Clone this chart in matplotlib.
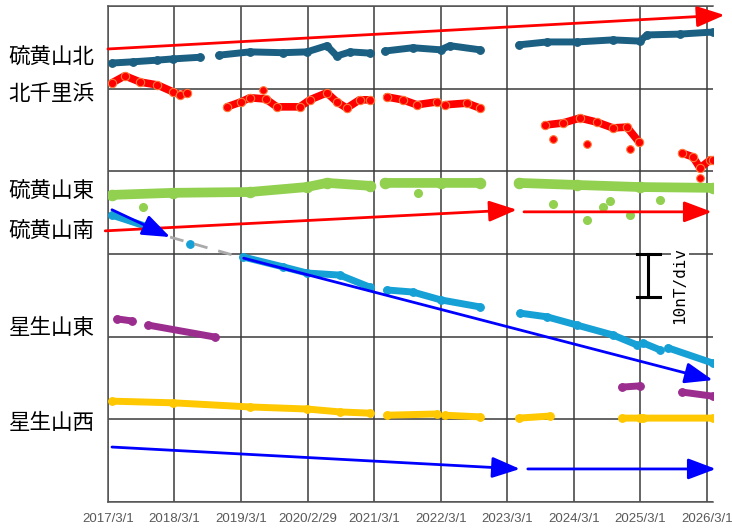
import numpy as np
import pandas as pd
import matplotlib
matplotlib.use('Agg')
import matplotlib.pyplot as plt

plt.rcParams['font.family'] = ['Noto Sans CJK JP', 'DejaVu Sans']

# x軸の目盛り
tick_dates = ['2017-03-01', '2018-03-01', '2019-03-01', '2020-02-29', '2021-03-01',
              '2022-03-01', '2023-03-01', '2024-03-01', '2025-03-01', '2026-03-01']
tick_labels = ['2017/3/1', '2018/3/1', '2019/3/1', '2020/2/29', '2021/3/1',
               '2022/3/1', '2023/3/1', '2024/3/1', '2025/3/1', '2026/3/1']

# 観測点ラベル (表示位置の値)
stations = ['硫黄山北', '北千里浜', '硫黄山東', '硫黄山南', '星生山東', '星生山西']
station_y = [107.6, 98.6, 75.0, 65.6, 42.0, 19.0]

# 各観測点の値 (None は欠測)
n1_dates = ['2017-03-23', '2017-07-17', '2017-11-27', '2018-02-22', '2018-07-19', None,
            '2018-10-31', '2019-04-19', '2019-10-17', '2020-02-26', '2020-06-14', '2020-08-08',
            '2020-10-20', '2021-02-04', None,
            '2021-04-28', '2021-09-29', '2022-03-01', '2022-04-20', '2022-10-02', None,
            '2023-05-04', '2023-10-05', '2024-03-18', '2024-10-01', '2025-02-26',
            '2025-04-06', '2025-10-04', '2026-04-02']
n1_vals = [106.2, 106.5, 106.9, 107.2, 107.6, None,
           108.1, 108.9, 108.7, 108.9, 110.4, 107.9,
           108.9, 108.6, None,
           109.1, 109.9, 109.4, 110.4, 109.4, None,
           110.6, 111.3, 111.3, 111.8, 111.5,
           113.0, 113.2, 113.7]

k2_dates = ['2017-03-23', '2017-06-02', '2017-08-25', '2017-11-27', '2018-02-22', '2018-03-31', '2018-05-09', None,
            '2018-12-15', '2019-03-01', '2019-04-19', '2019-07-15', '2019-09-14', '2020-01-18', '2020-03-13',
            '2020-06-14', '2020-08-08', '2020-10-01', '2020-12-11', '2021-02-04', None,
            '2021-05-09', '2021-08-05', '2021-10-21', '2022-02-08', None,
            '2022-03-24', '2022-07-22', '2022-10-02', None,
            '2023-09-24', '2024-01-01', '2024-04-03', '2024-07-05', '2024-10-01', '2024-12-17', '2025-02-21', None,
            '2025-10-15', '2025-12-14', '2026-01-22', '2026-03-17', '2026-04-02']
k2_vals = [101.4, 103.1, 101.6, 100.9, 99.2, 98.5, 99.0, None,
           95.6, 96.8, 97.8, 97.5, 95.6, 95.6, 97.3,
           99.0, 96.8, 95.3, 97.3, 97.3, None,
           98.0, 97.3, 96.1, 96.8, None,
           96.1, 96.5, 95.3, None,
           91.2, 91.7, 92.9, 91.9, 90.5, 90.7, 87.1, None,
           84.4, 83.5, 80.8, 82.7, 82.7]
k2_out_dates = ['2019-06-29', '2023-11-07', '2024-05-11', '2025-01-02', '2026-01-22']
k2_out_vals = [99.7, 87.8, 86.6, 85.4, 78.4]

e3_dates = ['2017-03-23', '2018-02-22', '2019-04-19', '2020-02-26', '2020-06-14', '2021-02-04', None,
            '2021-04-28', '2022-03-01', '2022-10-02', None,
            '2023-05-04', '2024-03-18', '2025-02-26', '2026-04-02']
e3_vals = [74.3, 74.8, 75.0, 76.2, 77.2, 76.5, None,
           77.2, 77.2, 77.2, None,
           77.2, 76.7, 76.2, 76.0]
e3_out_dates = ['2017-09-11', '2021-10-27', '2023-11-07', '2024-05-11', '2024-08-07',
                '2024-09-14', '2025-01-02', '2025-06-16']
e3_out_vals = [71.4, 74.8, 72.1, 68.2, 71.4, 72.8, 69.4, 73.0]

s4_dates = ['2017-03-23', '2017-11-27', None,
            '2018-05-25', None,
            '2019-03-11', '2019-10-17', '2020-02-26', '2020-08-24', '2021-02-04', None,
            '2021-05-09', '2021-09-29', '2022-03-01', '2022-10-02', None,
            '2023-05-10', '2023-10-05', '2024-03-18', '2024-10-01', '2025-02-10', None,
            '2025-03-15', '2025-06-16', None,
            '2025-07-30', '2026-04-02']
s4_vals = [69.4, 65.8, None,
           62.4, None,
           59.3, 56.9, 55.4, 54.9, 52.0, None,
           51.3, 50.8, 48.9, 47.2, None,
           45.7, 44.8, 42.8, 40.4, 38.0, None,
           38.5, 36.8, None,
           37.3, 33.6]

h5_dates = ['2017-04-20', '2017-07-11', None,
            '2017-10-08', '2018-10-10', None,
            '2024-11-19', '2025-02-26', None,
            '2025-10-15', '2026-04-02']
h5_vals = [44.3, 43.8, None,
           42.8, 39.9, None,
           27.8, 28.1, None,
           26.6, 25.6]

w6_dates = ['2017-03-23', '2018-02-22', '2019-04-19', '2020-02-26', '2020-08-24', '2021-02-04', None,
            '2021-05-09', '2022-02-08', None,
            '2022-03-24', '2022-10-02', None,
            '2023-05-04', '2023-10-21', None,
            '2024-11-19', '2025-02-26', None,
            '2025-03-15', '2026-04-02']
w6_vals = [24.4, 24.0, 23.0, 22.5, 21.8, 21.5, None,
           21.0, 21.3, None,
           21.0, 20.6, None,
           20.3, 20.8, None,
           20.3, 20.3, None,
           20.3, 20.3]

# 傾向を示す矢印 (始点, 終点)
red_arrows = [(('2017-03-01', 109.6), ('2026-06-06', 117.8)),
              (('2017-02-14', 65.6), ('2023-04-23', 70.7)),
              (('2023-06-01', 70.2), ('2026-03-28', 70.2))]
blue_arrows = [(('2017-03-23', 70.7), ('2018-02-05', 64.1)),
               (('2019-03-15', 59.0), ('2026-04-02', 29.5)),
               (('2017-03-23', 13.3), ('2023-05-10', 8.0)),
               (('2023-06-22', 8.0), ('2026-04-19', 8.0))]
gray_dash = (('2018-02-05', 64.1), ('2019-03-15', 59.0))


def to_series(dates, vals):
    d = pd.to_datetime(pd.Series(dates))
    v = np.array([np.nan if x is None else x for x in vals], dtype=float)
    return d, v


fig = plt.figure(figsize=(7.32, 5.30), dpi=100)
ax = fig.add_axes([0.1475, 0.0528, 0.8265, 0.9359])

series = [
    (n1_dates, n1_vals, '#1b5f82', '#1b5f82', 5.0),
    (k2_dates, k2_vals, '#ff0000', '#ff7a3a', 5.5),
    (e3_dates, e3_vals, '#92d050', '#92d050', 7.0),
    (s4_dates, s4_vals, '#15a0d6', '#15a0d6', 5.0),
    (h5_dates, h5_vals, '#9b2d8f', '#9b2d8f', 5.0),
    (w6_dates, w6_vals, '#ffc800', '#ffc800', 5.0),
]
for dates, vals, c, ec, lw in series:
    d, v = to_series(dates, vals)
    ax.plot(d, v, color=c, lw=lw, solid_capstyle='round', zorder=3)
    ax.plot(d, v, ls='none', marker='o', ms=lw + 0.5, mfc=c, mec=ec, mew=0.8, zorder=4)

d, v = to_series(k2_out_dates, k2_out_vals)
ax.plot(d, v, ls='none', marker='o', ms=5.5, mfc='#ff0000', mec='#ff7a3a', mew=0.8, zorder=4)
d, v = to_series(e3_out_dates, e3_out_vals)
ax.plot(d, v, ls='none', marker='o', ms=5.5, mfc='#92d050', mec='#92d050', zorder=4)

# 矢印
def arrow(p0, p1, color):
    ax.annotate('', xy=(pd.to_datetime(p1[0]), p1[1]), xytext=(pd.to_datetime(p0[0]), p0[1]),
                arrowprops=dict(arrowstyle='-|>,head_length=0.85,head_width=0.32', mutation_scale=20,
                                color=color, lw=2, shrinkA=0, shrinkB=0),
                annotation_clip=False, zorder=6)

for p0, p1 in red_arrows:
    arrow(p0, p1, '#ff0000')
for p0, p1 in blue_arrows:
    arrow(p0, p1, '#0000ff')
ax.plot(pd.to_datetime([gray_dash[0][0], gray_dash[1][0]]), [gray_dash[0][1], gray_dash[1][1]],
        color='#aaaaaa', lw=2, dashes=(5, 4), zorder=5)

# スケール 10nT/div
bar_x = pd.to_datetime('2025-04-12')
cap_l, cap_r = pd.to_datetime('2025-02-10'), pd.to_datetime('2025-06-16')
ax.plot([bar_x, bar_x], [49.5, 60], color='black', lw=2.2, zorder=7)
ax.plot([cap_l, cap_r], [60, 60], color='black', lw=2.2, zorder=7)
ax.plot([cap_l, cap_r], [49.5, 49.5], color='black', lw=2.2, zorder=7)
ax.text(pd.to_datetime('2025-10-04'), 52.5, '10nT/div', rotation=90, ha='center', va='center',
        family='DejaVu Sans Mono', fontsize=11.5, zorder=7,
        bbox=dict(facecolor='white', edgecolor='none', pad=1))

# 軸
ax.set_xlim(pd.to_datetime('2017-03-01'), pd.to_datetime('2026-04-03'))
ax.set_ylim(0, 120)
ax.set_xticks(pd.to_datetime(tick_dates))
ax.set_xticklabels(tick_labels, family='Liberation Sans', fontsize=9.5, color='#595959')
ax.set_yticks(np.arange(0, 121, 20))
ax.set_yticklabels([])
ax.tick_params(length=0, pad=8)
ax.grid(True, color='#3a3a3a', lw=1.1)
ax.spines['right'].set_visible(False)
for s in ['left', 'bottom', 'top']:
    ax.spines[s].set_color('#555555')
    ax.spines[s].set_linewidth(1.1)

for name, y in zip(stations, station_y):
    ax.text(-0.022, y, name, transform=ax.get_yaxis_transform(), ha='right', va='center',
            fontsize=15.5, color='black')

fig.savefig('out.png', dpi=100)
